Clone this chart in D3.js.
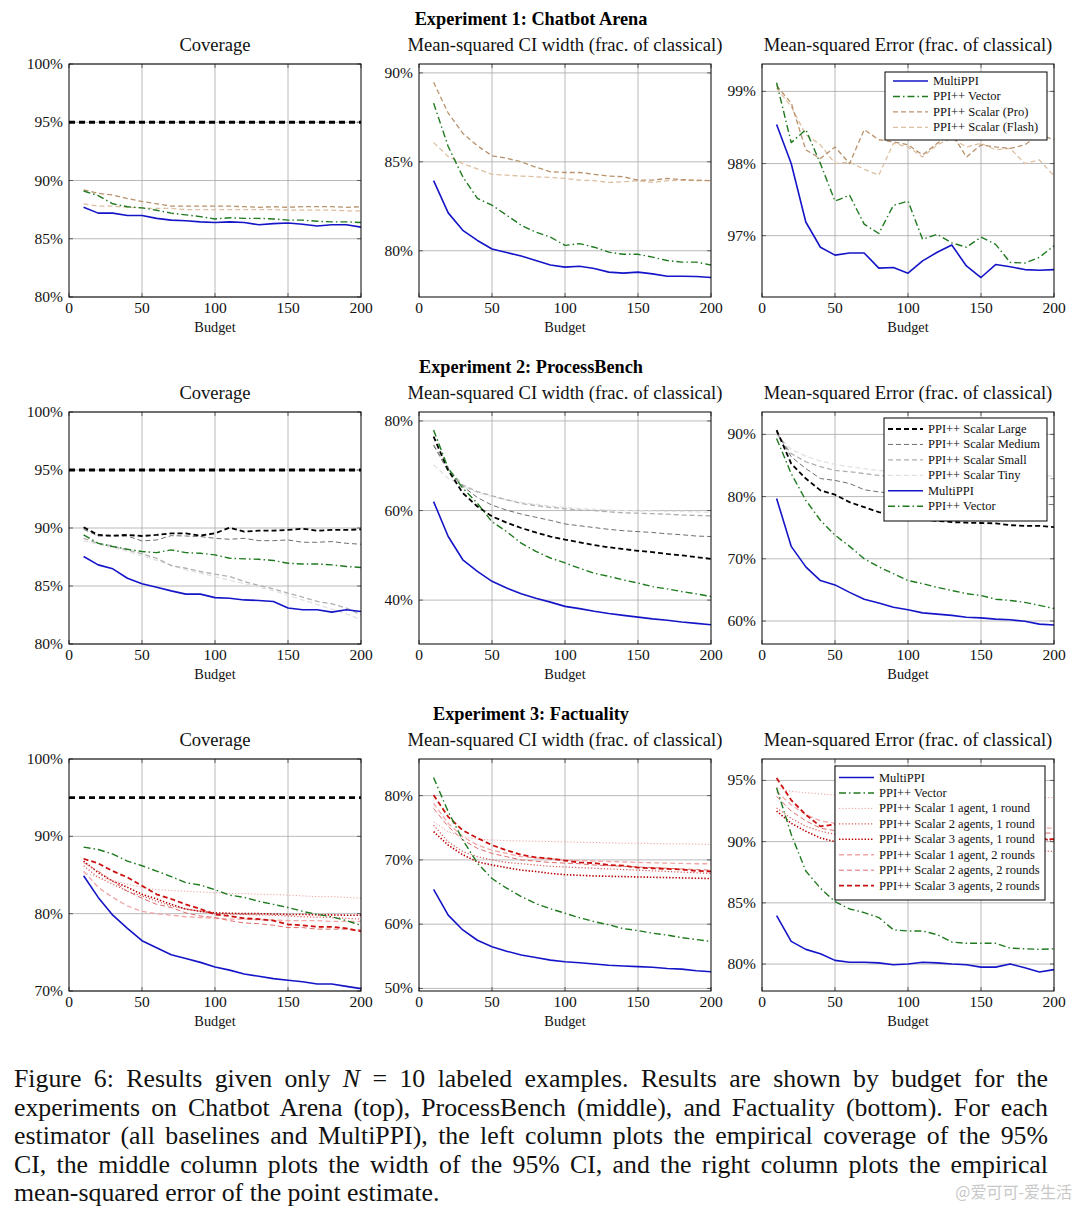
<!DOCTYPE html>
<html>
<head>
<meta charset="utf-8">
<script src="https://cdn.jsdelivr.net/npm/d3@7"></script>
<style>
body { margin: 0; background: #fff; }
#wrap { position: relative; width: 1080px; height: 1216px; overflow: hidden; background: #fff; }
#wrap svg { position: absolute; left: 0; top: 0; }
#caption { position: absolute; left: 14px; top: 1065px; width: 1034px; font-family: "Liberation Serif", "Times New Roman", serif; font-size: 25.8px; line-height: 28.6px; color: #111; }
#caption div { text-align: justify; text-align-last: justify; white-space: nowrap; }
#caption div.last { text-align-last: left; }
</style>
</head>
<body>
<div id="wrap"></div>
<script>
var budget = [10, 20, 30, 40, 50, 60, 70, 80, 90, 100, 110, 120, 130, 140, 150, 160, 170, 180, 190, 200];
var xTicks = [0, 50, 100, 150, 200];

// Experiment 1: Chatbot Arena
var e1CovMulti = [87.7, 87.2, 87.2, 87.0, 87.0, 86.75, 86.6, 86.55, 86.45, 86.4, 86.45, 86.4, 86.2, 86.3, 86.35, 86.25, 86.1, 86.2, 86.2, 86.0];
var e1CovVector = [89.1, 88.7, 88.0, 87.75, 87.65, 87.45, 87.2, 87.05, 86.9, 86.7, 86.8, 86.75, 86.75, 86.7, 86.6, 86.6, 86.5, 86.45, 86.45, 86.4];
var e1CovPro = [89.2, 88.9, 88.75, 88.45, 88.2, 88.0, 87.8, 87.8, 87.8, 87.8, 87.8, 87.75, 87.7, 87.75, 87.7, 87.75, 87.75, 87.75, 87.7, 87.75];
var e1CovFlash = [88.0, 87.8, 87.8, 87.7, 87.65, 87.6, 87.6, 87.5, 87.5, 87.5, 87.5, 87.5, 87.5, 87.5, 87.45, 87.45, 87.45, 87.45, 87.4, 87.4];

var e1WidMulti = [83.94, 82.13, 81.15, 80.58, 80.1, 79.9, 79.7, 79.45, 79.2, 79.08, 79.13, 79.0, 78.8, 78.74, 78.8, 78.7, 78.57, 78.57, 78.55, 78.5];
var e1WidVector = [88.3, 85.86, 84.16, 82.94, 82.56, 82.0, 81.43, 81.05, 80.77, 80.3, 80.4, 80.2, 79.92, 79.8, 79.8, 79.64, 79.45, 79.36, 79.36, 79.2];
var e1WidPro = [89.47, 87.74, 86.6, 85.9, 85.34, 85.2, 85.0, 84.7, 84.44, 84.4, 84.4, 84.3, 84.2, 84.16, 83.97, 83.97, 84.07, 84.0, 83.97, 83.94];
var e1WidFlash = [86.08, 85.3, 84.9, 84.6, 84.3, 84.25, 84.2, 84.16, 84.12, 84.07, 83.97, 83.94, 83.84, 83.88, 83.94, 83.84, 83.94, 83.97, 83.94, 83.94];

var e1MseMulti = [98.54, 98.0, 97.19, 96.84, 96.73, 96.76, 96.76, 96.55, 96.56, 96.48, 96.65, 96.77, 96.87, 96.58, 96.42, 96.6, 96.57, 96.53, 96.52, 96.53];
var e1MseVector = [99.12, 98.29, 98.47, 98.0, 97.48, 97.56, 97.16, 97.03, 97.42, 97.48, 96.95, 97.02, 96.9, 96.84, 96.98, 96.88, 96.63, 96.62, 96.7, 96.86];
var e1MsePro = [99.08, 98.84, 98.19, 98.07, 98.23, 98.0, 98.47, 98.33, 98.3, 98.26, 98.12, 98.28, 98.42, 98.09, 98.26, 98.23, 98.21, 98.26, 98.4, 98.33];
var e1MseFlash = [99.05, 98.79, 98.4, 98.26, 98.0, 98.02, 97.92, 97.84, 98.28, 98.23, 98.09, 98.26, 98.35, 98.23, 98.28, 98.19, 98.21, 98.0, 98.05, 97.83];

// Experiment 2: ProcessBench
var e2CovMulti = [87.54, 86.82, 86.48, 85.67, 85.19, 84.9, 84.58, 84.3, 84.3, 84.0, 83.95, 83.8, 83.75, 83.67, 83.1, 82.95, 82.95, 82.75, 82.95, 82.8];
var e2CovVector = [89.4, 88.68, 88.4, 88.17, 87.97, 87.88, 88.11, 87.88, 87.82, 87.68, 87.39, 87.34, 87.3, 87.2, 86.96, 86.9, 86.9, 86.82, 86.68, 86.6];
var e2CovLarge = [90.06, 89.4, 89.34, 89.4, 89.31, 89.4, 89.54, 89.54, 89.34, 89.54, 90.03, 89.68, 89.77, 89.77, 89.83, 89.94, 89.77, 89.83, 89.83, 89.89];
var e2CovMedium = [89.89, 89.31, 89.31, 89.31, 88.88, 88.97, 89.34, 89.31, 89.26, 89.11, 89.03, 89.11, 88.91, 88.91, 88.97, 88.77, 88.77, 88.83, 88.68, 88.6];
var e2CovSmall = [89.11, 88.68, 88.45, 88.1, 87.77, 87.39, 86.76, 86.53, 86.25, 86.02, 85.82, 85.39, 85.04, 84.76, 84.38, 84.04, 83.67, 83.47, 83.1, 82.52];
var e2CovTiny = [88.9, 88.6, 88.3, 88.0, 87.6, 87.2, 86.8, 86.4, 86.1, 85.8, 85.5, 85.2, 84.9, 84.6, 84.2, 83.8, 83.4, 83.0, 82.6, 82.1];

var e2WidMulti = [62.0, 54.2, 49.0, 46.4, 44.2, 42.7, 41.4, 40.4, 39.55, 38.6, 38.1, 37.5, 37.0, 36.6, 36.2, 35.8, 35.5, 35.1, 34.8, 34.5];
var e2WidVector = [78.0, 69.4, 65.0, 61.6, 57.5, 55.3, 52.7, 50.9, 49.4, 48.3, 47.1, 46.0, 45.3, 44.5, 43.8, 43.0, 42.5, 41.9, 41.4, 40.8];
var e2WidLarge = [76.5, 69.0, 63.9, 60.9, 58.7, 57.3, 56.1, 55.1, 54.2, 53.5, 52.9, 52.3, 51.8, 51.4, 51.0, 50.7, 50.3, 50.0, 49.6, 49.2];
var e2WidMedium = [74.6, 68.7, 65.4, 62.9, 61.2, 60.1, 59.2, 58.5, 57.8, 57.0, 56.6, 56.2, 55.8, 55.5, 55.3, 55.1, 54.8, 54.6, 54.3, 54.2];
var e2WidSmall = [74.6, 69.4, 65.7, 64.2, 63.3, 62.4, 61.6, 61.1, 60.7, 60.4, 60.1, 60.0, 59.7, 59.5, 59.4, 59.3, 59.2, 59.0, 58.9, 58.8];
var e2WidTiny = [70.2, 67.2, 65.4, 64.0, 63.1, 62.4, 61.8, 61.4, 61.0, 60.7, 60.4, 60.3, 60.1, 60.0, 59.9, 59.9, 59.8, 59.8, 59.7, 59.6];

var e2MseMulti = [79.7, 72.0, 68.7, 66.5, 65.8, 64.6, 63.5, 62.9, 62.2, 61.8, 61.3, 61.1, 60.9, 60.6, 60.5, 60.3, 60.2, 59.95, 59.5, 59.35];
var e2MseVector = [89.35, 83.7, 79.4, 76.2, 73.8, 72.0, 70.0, 68.7, 67.6, 66.5, 66.0, 65.4, 64.9, 64.4, 64.1, 63.5, 63.3, 63.0, 62.5, 62.0];
var e2MseLarge = [90.7, 85.3, 82.9, 81.0, 80.3, 79.1, 78.3, 77.5, 77.0, 76.6, 76.3, 76.1, 75.9, 75.8, 75.75, 75.7, 75.4, 75.3, 75.3, 75.1];
var e2MseMedium = [90.4, 86.4, 84.5, 82.9, 82.6, 82.1, 81.1, 80.75, 80.5, 80.2, 79.95, 79.8, 79.7, 79.4, 79.3, 79.15, 79.0, 78.9, 78.8, 78.7];
var e2MseSmall = [90.2, 86.9, 85.6, 84.8, 84.2, 84.0, 83.7, 83.4, 83.3, 83.2, 83.1, 83.1, 83.0, 83.0, 83.0, 82.95, 82.95, 82.9, 82.9, 82.9];
var e2MseTiny = [90.0, 87.6, 86.5, 85.7, 85.2, 84.8, 84.5, 84.2, 84.0, 83.9, 83.8, 83.7, 83.6, 83.6, 83.5, 83.5, 83.4, 83.4, 83.4, 83.3];

// Experiment 3: Factuality
var e3CovMulti = [84.9, 82.1, 79.8, 78.1, 76.5, 75.6, 74.7, 74.2, 73.7, 73.1, 72.7, 72.2, 71.9, 71.6, 71.4, 71.2, 70.9, 70.9, 70.6, 70.3];
var e3CovVector = [88.6, 88.3, 87.7, 86.8, 86.2, 85.5, 84.8, 84.0, 83.7, 83.1, 82.4, 82.1, 81.6, 81.2, 80.8, 80.3, 79.9, 79.6, 79.1, 78.5];
var e3Cov1a1r = [85.3, 84.7, 84.3, 83.8, 83.4, 83.1, 83.0, 82.9, 82.8, 82.7, 82.6, 82.6, 82.5, 82.5, 82.4, 82.3, 82.2, 82.2, 82.1, 82.0];
var e3Cov2a1r = [86.2, 84.7, 83.8, 82.9, 82.3, 81.6, 81.0, 80.6, 80.3, 80.0, 79.95, 79.9, 79.85, 79.8, 79.7, 79.6, 79.55, 79.5, 79.4, 79.3];
var e3Cov3a1r = [86.8, 85.3, 84.2, 83.4, 82.5, 81.9, 81.2, 80.6, 80.3, 80.1, 80.05, 80.0, 80.0, 79.95, 79.9, 79.9, 79.85, 79.85, 79.8, 79.8];
var e3Cov1a2r = [85.5, 83.4, 82.1, 81.0, 80.3, 80.0, 79.8, 79.6, 79.5, 79.4, 79.3, 79.3, 79.2, 79.2, 79.1, 79.1, 79.1, 79.0, 79.0, 79.0];
var e3Cov2a2r = [86.6, 85.5, 84.2, 82.9, 82.0, 81.2, 80.8, 80.1, 79.7, 79.5, 79.1, 78.8, 78.7, 78.5, 78.2, 78.2, 78.0, 78.0, 78.0, 77.9];
var e3Cov3a2r = [87.1, 86.5, 85.5, 84.7, 83.6, 82.5, 81.9, 81.2, 80.6, 79.9, 79.7, 79.4, 79.3, 79.1, 78.6, 78.5, 78.3, 78.3, 78.1, 77.7];

var e3WidMulti = [65.4, 61.4, 59.1, 57.5, 56.5, 55.8, 55.2, 54.8, 54.4, 54.15, 54.0, 53.8, 53.6, 53.5, 53.4, 53.3, 53.1, 53.0, 52.75, 52.6];
var e3WidVector = [82.8, 77.5, 73.1, 69.5, 67.1, 65.6, 64.3, 63.2, 62.4, 61.7, 61.0, 60.4, 59.9, 59.3, 59.0, 58.6, 58.3, 57.9, 57.6, 57.3];
var e3Wid1a1r = [75.9, 74.4, 73.6, 73.2, 73.1, 73.0, 72.95, 72.9, 72.85, 72.8, 72.75, 72.7, 72.65, 72.6, 72.6, 72.55, 72.5, 72.5, 72.45, 72.4];
var e3Wid2a1r = [75.4, 72.8, 71.3, 70.5, 70.0, 69.6, 69.4, 69.2, 69.0, 68.9, 68.8, 68.7, 68.6, 68.5, 68.4, 68.3, 68.2, 68.1, 68.0, 67.9];
var e3Wid3a1r = [74.4, 72.3, 70.8, 69.7, 69.2, 68.8, 68.4, 68.2, 67.9, 67.7, 67.6, 67.5, 67.45, 67.4, 67.35, 67.3, 67.25, 67.2, 67.15, 67.1];
var e3Wid1a2r = [78.8, 75.7, 73.6, 72.3, 71.5, 71.0, 70.5, 70.3, 70.2, 70.0, 69.9, 69.8, 69.75, 69.7, 69.6, 69.55, 69.5, 69.45, 69.4, 69.4];
var e3Wid2a2r = [78.0, 75.2, 73.1, 71.8, 71.0, 70.5, 70.0, 69.8, 69.6, 69.5, 69.4, 69.2, 69.1, 69.0, 68.9, 68.8, 68.7, 68.6, 68.5, 68.4];
var e3Wid3a2r = [80.1, 76.7, 74.6, 73.4, 72.3, 71.5, 70.8, 70.4, 70.2, 69.9, 69.6, 69.5, 69.2, 69.1, 68.8, 68.7, 68.6, 68.5, 68.3, 68.2];

var e3MseMulti = [83.95, 81.85, 81.2, 80.85, 80.3, 80.15, 80.15, 80.1, 79.95, 80.0, 80.15, 80.1, 80.0, 79.95, 79.75, 79.75, 80.0, 79.7, 79.35, 79.55];
var e3MseVector = [94.4, 90.6, 87.6, 86.2, 85.1, 84.5, 84.2, 83.8, 82.8, 82.7, 82.7, 82.4, 81.8, 81.7, 81.7, 81.7, 81.3, 81.25, 81.2, 81.25];
var e3Mse1a1r = [94.4, 94.1, 94.0, 93.9, 93.8, 93.8, 93.8, 93.75, 93.75, 93.7, 93.7, 93.7, 93.7, 93.65, 93.65, 93.65, 93.6, 93.6, 93.6, 93.6];
var e3Mse2a1r = [92.75, 91.9, 91.25, 90.85, 90.6, 90.4, 90.2, 90.1, 90.0, 89.9, 89.8, 89.7, 89.6, 89.5, 89.45, 89.4, 89.35, 89.3, 89.25, 89.2];
var e3Mse3a1r = [92.5, 91.5, 90.85, 90.3, 90.0, 89.9, 89.9, 89.95, 90.0, 90.0, 90.05, 90.05, 90.1, 90.1, 90.1, 90.1, 90.15, 90.15, 90.15, 90.15];
var e3Mse1a2r = [94.1, 93.0, 92.2, 91.7, 91.5, 91.4, 91.3, 91.3, 91.25, 91.2, 91.2, 91.2, 91.15, 91.15, 91.1, 91.1, 91.1, 91.1, 91.1, 91.1];
var e3Mse2a2r = [93.7, 92.5, 91.7, 91.1, 90.9, 90.85, 90.8, 90.8, 90.75, 90.75, 90.7, 90.7, 90.7, 90.7, 90.7, 90.7, 90.7, 90.7, 90.7, 90.7];
var e3Mse3a2r = [95.2, 93.4, 92.2, 91.25, 91.4, 91.2, 91.0, 90.9, 90.8, 90.7, 90.6, 90.5, 90.5, 90.4, 90.4, 90.3, 90.3, 90.3, 90.2, 90.2];

var experimentTitles = ["Experiment 1: Chatbot Arena", "Experiment 2: ProcessBench", "Experiment 3: Factuality"];
var panelTitles = ["Coverage", "Mean-squared CI width (frac. of classical)", "Mean-squared Error (frac. of classical)"];
var targetCoverage = 95;

var captionLines = [
	"Figure 6: Results given only <i>N</i> = 10 labeled examples. Results are shown by budget for the",
	"experiments on Chatbot Arena (top), ProcessBench (middle), and Factuality (bottom). For each",
	"estimator (all baselines and MultiPPI), the left column plots the empirical coverage of the 95%",
	"CI, the middle column plots the width of the 95% CI, and the right column plots the empirical",
	"mean-squared error of the point estimate."
];

var styles = {
	multi:  { label: "MultiPPI", color: "#1515c8", width: 1.6, dash: null },
	vector: { label: "PPI++ Vector", color: "#1f7a1f", width: 1.4, dash: "7,3,1.5,3" },
	pro:    { label: "PPI++ Scalar (Pro)", color: "#b8926c", width: 1.3, dash: "5,3" },
	flash:  { label: "PPI++ Scalar (Flash)", color: "#dcc0a2", width: 1.3, dash: "5,3" },
	large:  { label: "PPI++ Scalar Large", color: "#000000", width: 1.8, dash: "5,3" },
	medium: { label: "PPI++ Scalar Medium", color: "#6e6e6e", width: 1.0, dash: "5,3" },
	small:  { label: "PPI++ Scalar Small", color: "#b0b0b0", width: 1.3, dash: "5,3" },
	tiny:   { label: "PPI++ Scalar Tiny", color: "#e2e2e2", width: 1.3, dash: "5,3" },
	a1r1:   { label: "PPI++ Scalar 1 agent, 1 round", color: "#f0a0a0", width: 1.0, dash: "1.2,2" },
	a2r1:   { label: "PPI++ Scalar 2 agents, 1 round", color: "#d45a5a", width: 1.2, dash: "1.2,2" },
	a3r1:   { label: "PPI++ Scalar 3 agents, 1 round", color: "#b80000", width: 1.6, dash: "1.4,1.8" },
	a1r2:   { label: "PPI++ Scalar 1 agent, 2 rounds", color: "#f2a6a6", width: 1.3, dash: "5,3" },
	a2r2:   { label: "PPI++ Scalar 2 agents, 2 rounds", color: "#dd6c6c", width: 1.0, dash: "5,3" },
	a3r2:   { label: "PPI++ Scalar 3 agents, 2 rounds", color: "#cc1010", width: 1.8, dash: "5,3" }
};

var colX = [[69, 361], [419, 711], [762, 1054]];
var rowY = [[64, 297], [412, 644], [759, 991]];

var panels = [
	{ r: 0, c: 0, y: [80, 100], ticks: [80, 85, 90, 95, 100], ref: true,
	  series: [["flash", e1CovFlash], ["pro", e1CovPro], ["vector", e1CovVector], ["multi", e1CovMulti]] },
	{ r: 0, c: 1, y: [77.4, 90.5], ticks: [80, 85, 90],
	  series: [["flash", e1WidFlash], ["pro", e1WidPro], ["vector", e1WidVector], ["multi", e1WidMulti]] },
	{ r: 0, c: 2, y: [96.15, 99.38], ticks: [97, 98, 99],
	  series: [["flash", e1MseFlash], ["pro", e1MsePro], ["vector", e1MseVector], ["multi", e1MseMulti]],
	  legend: { order: ["multi", "vector", "pro", "flash"], x: 885, y: 72, w: 162, h: 68, first: 81, sx: 8, tx: 48 } },
	{ r: 1, c: 0, y: [80, 100], ticks: [80, 85, 90, 95, 100], ref: true,
	  series: [["tiny", e2CovTiny], ["small", e2CovSmall], ["medium", e2CovMedium], ["large", e2CovLarge], ["vector", e2CovVector], ["multi", e2CovMulti]] },
	{ r: 1, c: 1, y: [30.2, 82], ticks: [40, 60, 80],
	  series: [["tiny", e2WidTiny], ["small", e2WidSmall], ["medium", e2WidMedium], ["large", e2WidLarge], ["vector", e2WidVector], ["multi", e2WidMulti]] },
	{ r: 1, c: 2, y: [56.3, 93.6], ticks: [60, 70, 80, 90],
	  series: [["tiny", e2MseTiny], ["small", e2MseSmall], ["medium", e2MseMedium], ["large", e2MseLarge], ["vector", e2MseVector], ["multi", e2MseMulti]],
	  legend: { order: ["large", "medium", "small", "tiny", "multi", "vector"], x: 884, y: 418, w: 163, h: 103, first: 429, sx: 4, tx: 44 } },
	{ r: 2, c: 0, y: [70, 100], ticks: [70, 80, 90, 100], ref: true,
	  series: [["a1r1", e3Cov1a1r], ["a2r1", e3Cov2a1r], ["a3r1", e3Cov3a1r], ["a1r2", e3Cov1a2r], ["a2r2", e3Cov2a2r], ["a3r2", e3Cov3a2r], ["vector", e3CovVector], ["multi", e3CovMulti]] },
	{ r: 2, c: 1, y: [49.6, 85.7], ticks: [50, 60, 70, 80],
	  series: [["a1r1", e3Wid1a1r], ["a2r1", e3Wid2a1r], ["a3r1", e3Wid3a1r], ["a1r2", e3Wid1a2r], ["a2r2", e3Wid2a2r], ["a3r2", e3Wid3a2r], ["vector", e3WidVector], ["multi", e3WidMulti]] },
	{ r: 2, c: 2, y: [77.8, 96.75], ticks: [80, 85, 90, 95],
	  series: [["a1r1", e3Mse1a1r], ["a2r1", e3Mse2a1r], ["a3r1", e3Mse3a1r], ["a1r2", e3Mse1a2r], ["a2r2", e3Mse2a2r], ["a3r2", e3Mse3a2r], ["vector", e3MseVector], ["multi", e3MseMulti]],
	  legend: { order: ["multi", "vector", "a1r1", "a2r1", "a3r1", "a1r2", "a2r2", "a3r2"], x: 835, y: 766, w: 210, h: 134, first: 777.5, sx: 4, tx: 44 } }
];

var serif = '"Liberation Serif", "Times New Roman", serif';
var wrap = d3.select("#wrap");
var svg = wrap.append("svg").attr("width", 1080).attr("height", 1216);

// experiment headings
experimentTitles.forEach(function(t, i) {
	svg.append("text")
		.attr("x", 531).attr("y", rowY[i][0] - 39)
		.attr("text-anchor", "middle")
		.attr("font-family", serif).attr("font-size", "18.3px").attr("font-weight", "bold")
		.attr("fill", "#000")
		.text(t);
});

panels.forEach(function(p, idx) {
	drawPanel(p, idx);
});

function drawPanel(p, idx) {
	var x0 = colX[p.c][0], x1 = colX[p.c][1];
	var y0 = rowY[p.r][0], y1 = rowY[p.r][1];
	var x = d3.scaleLinear().domain([0, 200]).range([x0, x1]);
	var y = d3.scaleLinear().domain(p.y).range([y1, y0]);
	var g = svg.append("g");

	g.append("clipPath").attr("id", "clip" + idx)
		.append("rect").attr("x", x0).attr("y", y0).attr("width", x1 - x0).attr("height", y1 - y0);

	// grid
	g.selectAll(".gx").data(xTicks.slice(1, -1)).enter().append("line")
		.attr("x1", function(d) { return x(d); }).attr("x2", function(d) { return x(d); })
		.attr("y1", y0).attr("y2", y1)
		.attr("stroke", "#a8a8a8").attr("stroke-width", 0.8);
	g.selectAll(".gy").data(p.ticks).enter().append("line")
		.attr("x1", x0).attr("x2", x1)
		.attr("y1", function(d) { return y(d); }).attr("y2", function(d) { return y(d); })
		.attr("stroke", "#a8a8a8").attr("stroke-width", 0.8);

	// tick marks on both sides
	p.ticks.forEach(function(d) {
		g.append("line").attr("x1", x0).attr("x2", x0 + 4).attr("y1", y(d)).attr("y2", y(d)).attr("stroke", "#444").attr("stroke-width", 0.8);
		g.append("line").attr("x1", x1 - 4).attr("x2", x1).attr("y1", y(d)).attr("y2", y(d)).attr("stroke", "#444").attr("stroke-width", 0.8);
	});
	xTicks.forEach(function(d) {
		g.append("line").attr("x1", x(d)).attr("x2", x(d)).attr("y1", y1).attr("y2", y1 - 4).attr("stroke", "#444").attr("stroke-width", 0.8);
		g.append("line").attr("x1", x(d)).attr("x2", x(d)).attr("y1", y0).attr("y2", y0 + 4).attr("stroke", "#444").attr("stroke-width", 0.8);
	});

	var plot = g.append("g").attr("clip-path", "url(#clip" + idx + ")");

	if (p.ref) {
		plot.append("line")
			.attr("x1", x(0)).attr("x2", x(200))
			.attr("y1", y(targetCoverage)).attr("y2", y(targetCoverage))
			.attr("stroke", "#000").attr("stroke-width", 2.9).attr("stroke-dasharray", "6,4");
	}

	var line = d3.line()
		.x(function(d, i) { return x(budget[i]); })
		.y(function(d) { return y(d); });

	p.series.forEach(function(s) {
		var st = styles[s[0]];
		plot.append("path")
			.datum(s[1])
			.attr("d", line)
			.attr("fill", "none")
			.attr("stroke", st.color)
			.attr("stroke-width", st.width)
			.attr("stroke-dasharray", st.dash)
			.attr("stroke-linejoin", "round");
	});

	// frame
	g.append("rect").attr("x", x0).attr("y", y0).attr("width", x1 - x0).attr("height", y1 - y0)
		.attr("fill", "none").attr("stroke", "#000").attr("stroke-width", 1);

	// axis labels
	g.selectAll(".yl").data(p.ticks).enter().append("text")
		.attr("x", x0 - 6).attr("y", function(d) { return y(d) + 5; })
		.attr("text-anchor", "end")
		.attr("font-family", serif).attr("font-size", "15.5px").attr("fill", "#111")
		.text(function(d) { return d + "%"; });
	g.selectAll(".xl").data(xTicks).enter().append("text")
		.attr("x", function(d) { return x(d); }).attr("y", y1 + 16)
		.attr("text-anchor", "middle")
		.attr("font-family", serif).attr("font-size", "15.5px").attr("fill", "#111")
		.text(function(d) { return d; });
	g.append("text")
		.attr("x", (x0 + x1) / 2).attr("y", y1 + 35)
		.attr("text-anchor", "middle")
		.attr("font-family", serif).attr("font-size", "14.3px").attr("fill", "#111")
		.text("Budget");
	g.append("text")
		.attr("x", (x0 + x1) / 2).attr("y", y0 - 13)
		.attr("text-anchor", "middle")
		.attr("font-family", serif).attr("font-size", "18.6px").attr("fill", "#111")
		.text(panelTitles[p.c]);

	if (p.legend) drawLegend(g, p.legend);
}

function drawLegend(g, L) {
	g.append("rect").attr("x", L.x).attr("y", L.y).attr("width", L.w).attr("height", L.h)
		.attr("fill", "#fff").attr("stroke", "#000").attr("stroke-width", 1);
	L.order.forEach(function(k, i) {
		var st = styles[k];
		var yy = L.first + i * 15.45;
		g.append("line")
			.attr("x1", L.x + L.sx).attr("x2", L.x + L.tx - 5)
			.attr("y1", yy).attr("y2", yy)
			.attr("stroke", st.color).attr("stroke-width", st.width)
			.attr("stroke-dasharray", st.dash);
		g.append("text")
			.attr("x", L.x + L.tx).attr("y", yy + 4)
			.attr("font-family", serif).attr("font-size", "12.5px").attr("fill", "#111")
			.text(st.label);
	});
}

// caption below the figure
var cap = wrap.append("div").attr("id", "caption");
captionLines.forEach(function(t, i) {
	cap.append("div").attr("class", i === captionLines.length - 1 ? "last" : null).html(t);
});

svg.append("text")
	.attr("x", 1072).attr("y", 1198)
	.attr("text-anchor", "end")
	.attr("font-family", '"Noto Sans CJK SC", sans-serif').attr("font-size", "16px")
	.attr("fill", "#c8c8c8")
	.text("@爱可可-爱生活");
</script>
</body>
</html>
